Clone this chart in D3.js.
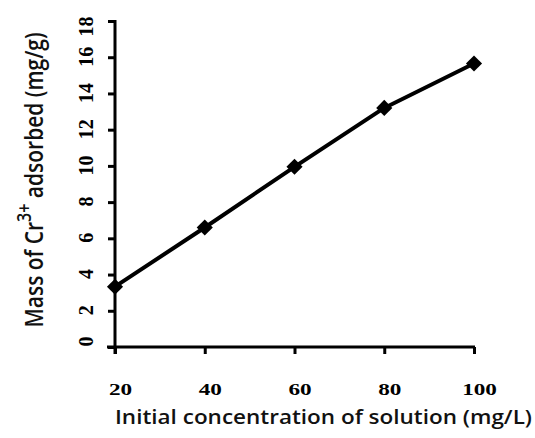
<!DOCTYPE html>
<html lang="en">
<head>
    <meta charset="UTF-8">
    <title>Cr3+ adsorption</title>
    <style>
        body {
            margin: 0;
            background: #fff;
        }
        .axis line,
        .axis path {
            fill: none;
            stroke: #000;
            stroke-width: 3;
        }
        .title {
            font-family: "Open Sans", "Noto Sans", sans-serif;
            font-weight: 600;
            fill: #111;
        }
    </style>
</head>
<body>

<div id="chart"></div>

<script src="https://d3js.org/d3.v7.min.js"></script>
<script>

    // data
    var concentration = [20, 40, 60, 80, 100];
    var adsorbed = [3.33, 6.6, 9.95, 13.2, 15.65];
    var xTicks = [20, 40, 60, 80, 100];
    var yTicks = [0, 2, 4, 6, 8, 10, 12, 14, 16, 18];

    var width = 535,
        height = 438;

    var svg = d3.select("#chart").append("svg")
            .attr("width", width)
            .attr("height", height);

    var x = d3.scaleLinear()
            .domain([20, 100])
            .range([115, 474]);

    var y = d3.scaleLinear()
            .domain([0, 18])
            .range([347, 21]);

    // tick label look (serif, bold)
    function tickStyle(sel, size) {
        sel.style("font-family", "'Liberation Serif', 'Times New Roman', serif")
           .style("font-weight", "bold")
           .style("font-size", size)
           .style("fill", "#000");
    }

    // y axis
    var yAxis = svg.append("g")
            .attr("class", "axis")
            .attr("transform", "translate(" + x(20) + ",0)")
            .call(d3.axisLeft(y).tickValues(yTicks).tickSize(7).tickSizeOuter(0));

    yAxis.select(".domain").remove();
    yAxis.append("line")
            .attr("y1", y(0) + 7)
            .attr("y2", y(18) - 1);

    yAxis.selectAll(".tick text")
            .call(tickStyle, "20px")
            .attr("x", null)
            .attr("dy", null)
            .attr("text-anchor", "middle")
            .attr("transform", function(d) {
                // end labels sit a little inside the axis, as in the original
                var shift = d === 18 ? 5 : (d === 0 ? -6 : -1);
                return "translate(-22," + shift + ") rotate(-90)";
            });

    // x axis
    var xAxis = svg.append("g")
            .attr("class", "axis")
            .attr("transform", "translate(0," + y(0) + ")")
            .call(d3.axisBottom(x).tickValues(xTicks).tickSize(7).tickSizeOuter(0));

    xAxis.select(".domain").remove();
    xAxis.append("line")
            .attr("x1", x(20) - 8)
            .attr("x2", x(100) + 1);

    xAxis.selectAll(".tick text")
            .call(tickStyle, "16px")
            .attr("y", null)
            .attr("dy", null)
            .attr("text-anchor", "middle")
            .attr("transform", "translate(5,48) scale(1.45,1)");

    // line
    var points = concentration.map(function(c, i) { return [c, adsorbed[i]]; });

    svg.append("path")
            .datum(points)
            .attr("fill", "none")
            .attr("stroke", "#000")
            .attr("stroke-width", 4)
            .attr("stroke-linejoin", "round")
            .attr("d", d3.line()
                    .x(function(d) { return x(d[0]); })
                    .y(function(d) { return y(d[1]); }));

    // diamond markers
    svg.selectAll(".marker")
            .data(points)
            .enter().append("path")
            .attr("class", "marker")
            .attr("fill", "#000")
            .attr("d", d3.symbol().type(d3.symbolSquare).size(130))
            .attr("transform", function(d) {
                return "translate(" + x(d[0]) + "," + y(d[1]) + ") rotate(45)";
            });

    // axis titles
    svg.append("text")
            .attr("class", "title")
            .style("font-size", "19px")
            .attr("x", 115)
            .attr("y", 424)
            .attr("textLength", 417)
            .attr("lengthAdjust", "spacingAndGlyphs")
            .text("Initial concentration of solution (mg/L)");

    var yTitle = svg.append("text")
            .attr("class", "title")
            .style("font-size", "21px")
            .attr("text-anchor", "middle")
            .attr("transform", "translate(43,180) scale(1.2,1) rotate(-90)");

    yTitle.append("tspan").text("Mass of Cr");
    yTitle.append("tspan")
            .attr("dy", -10)
            .style("font-size", "16px")
            .text("3+");
    yTitle.append("tspan")
            .attr("dy", 10)
            .text(" adsorbed (mg/g)");

</script>

</body>
</html>
